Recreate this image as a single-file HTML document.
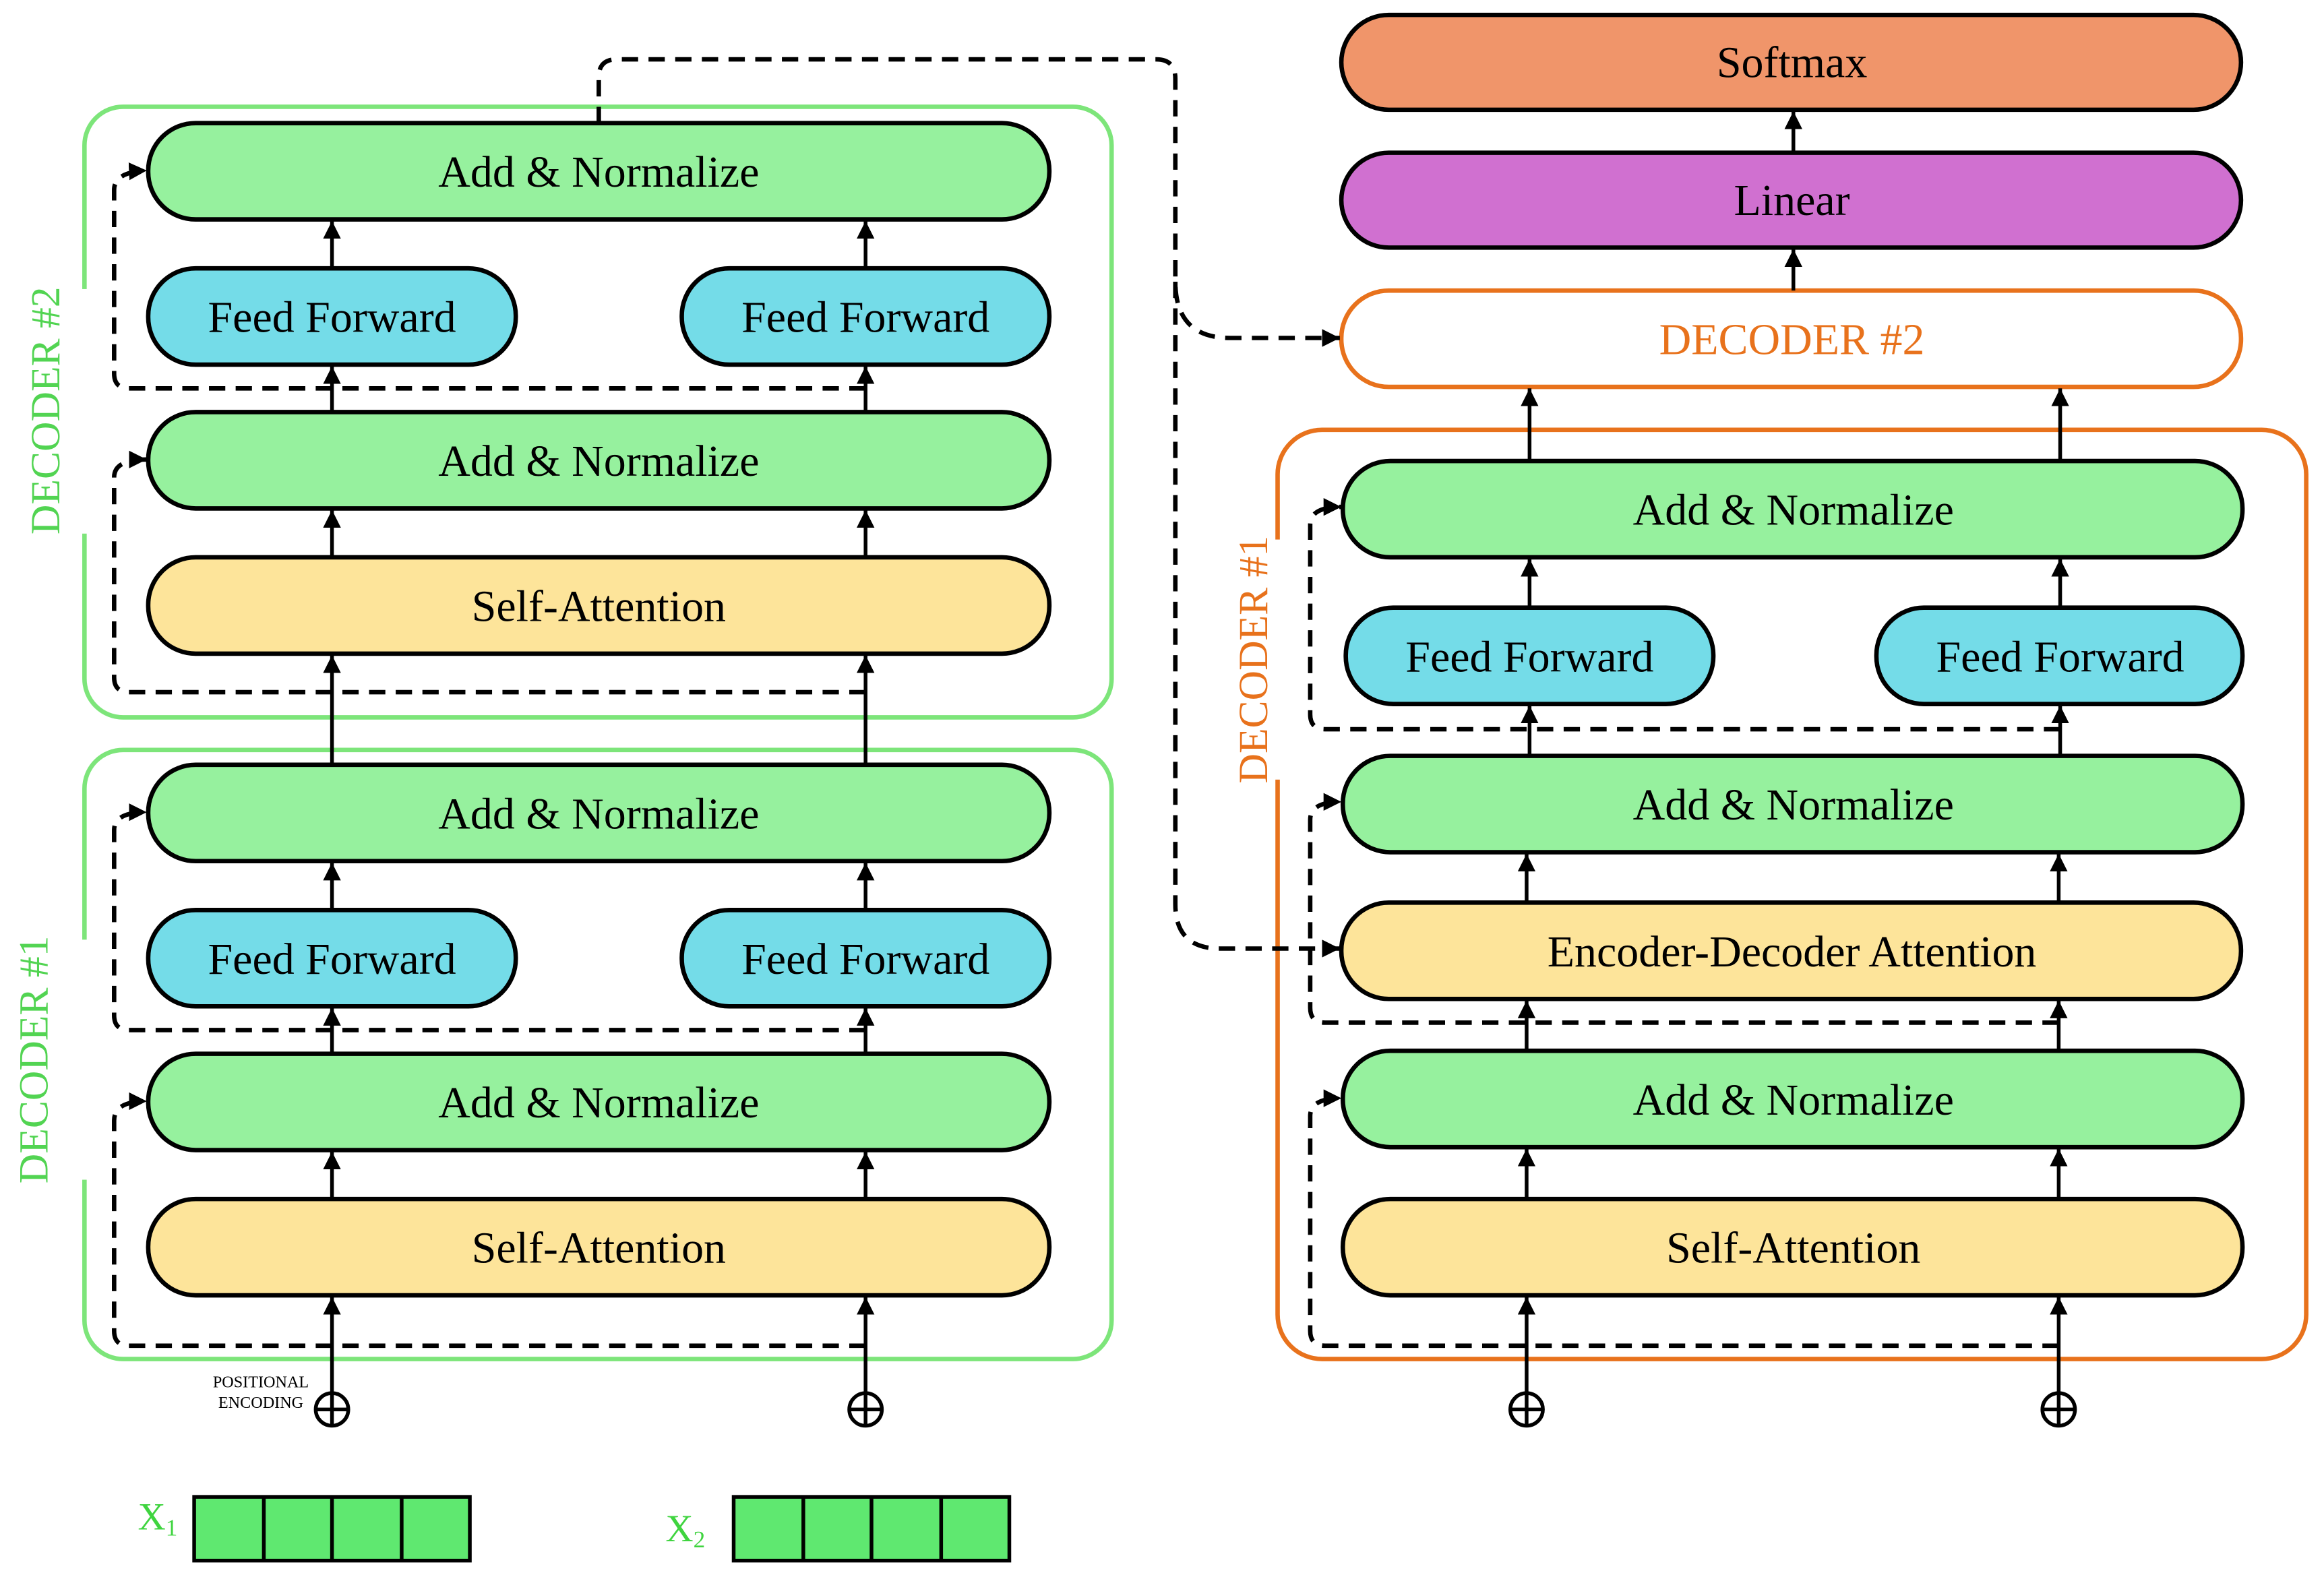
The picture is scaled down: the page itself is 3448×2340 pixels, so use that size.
<!DOCTYPE html>
<html><head><meta charset="utf-8"><style>html,body{margin:0;padding:0;background:#fff}svg{display:block}</style></head>
<body>
<svg width="3448" height="2340" viewBox="0 0 1568 1064" xmlns="http://www.w3.org/2000/svg" font-family="Liberation Serif, serif">
<defs>
<marker id="b" viewBox="0 0 10 10" refX="10" refY="5" markerWidth="12" markerHeight="12" orient="auto" markerUnits="userSpaceOnUse"><path d="M0,0 L10,5 L0,10 z" fill="#000"/></marker>
</defs>
<rect width="1568" height="1064" fill="#fff"/>
<rect x="57" y="72" width="693" height="412" rx="26" fill="none" stroke="#7de57a" stroke-width="3"/>
<rect x="57" y="506" width="693" height="411" rx="26" fill="none" stroke="#7de57a" stroke-width="3"/>
<rect x="862" y="290" width="694" height="627" rx="30" fill="none" stroke="#e8721c" stroke-width="3"/>
<rect x="40" y="195" width="30" height="165" fill="#fff"/>
<rect x="40" y="634" width="30" height="162" fill="#fff"/>
<rect x="845" y="364" width="30" height="162" fill="#fff"/>
<text transform="translate(40,277) rotate(-90)" text-anchor="middle" font-size="28" fill="#52d452">DECODER #2</text>
<text transform="translate(32,715) rotate(-90)" text-anchor="middle" font-size="28" fill="#52d452">DECODER #1</text>
<text transform="translate(855,445) rotate(-90)" text-anchor="middle" font-size="28" fill="#e8721c">DECODER #1</text>

<g stroke="#000" stroke-width="3">
<rect x="100" y="83" width="608" height="65" rx="32" fill="#96f19e"/>
<rect x="100" y="181" width="248" height="65" rx="32" fill="#74dce8"/>
<rect x="460" y="181" width="248" height="65" rx="32" fill="#74dce8"/>
<rect x="100" y="278" width="608" height="65" rx="32" fill="#96f19e"/>
<rect x="100" y="376" width="608" height="65" rx="32" fill="#fde49a"/>
<rect x="100" y="516" width="608" height="65" rx="32" fill="#96f19e"/>
<rect x="100" y="614" width="248" height="65" rx="32" fill="#74dce8"/>
<rect x="460" y="614" width="248" height="65" rx="32" fill="#74dce8"/>
<rect x="100" y="711" width="608" height="65" rx="32" fill="#96f19e"/>
<rect x="100" y="809" width="608" height="65" rx="32" fill="#fde49a"/>
<rect x="905" y="10" width="607" height="64" rx="32" fill="#f0956a"/>
<rect x="905" y="103" width="607" height="64" rx="32" fill="#d070d0"/>
<rect x="905" y="196" width="607" height="65" rx="32" fill="#fff" stroke="#e8721c"/>
<rect x="906" y="311" width="607" height="65" rx="32" fill="#96f19e"/>
<rect x="908" y="410" width="248" height="65" rx="32" fill="#74dce8"/>
<rect x="1266" y="410" width="247" height="65" rx="32" fill="#74dce8"/>
<rect x="906" y="510" width="607" height="65" rx="32" fill="#96f19e"/>
<rect x="905" y="609" width="607" height="65" rx="32" fill="#fde49a"/>
<rect x="906" y="709" width="607" height="65" rx="32" fill="#96f19e"/>
<rect x="906" y="809" width="607" height="65" rx="32" fill="#fde49a"/>
</g>
<g font-size="30" text-anchor="middle" fill="#000">
<text x="404" y="126">Add &amp; Normalize</text>
<text x="224" y="224">Feed Forward</text>
<text x="584" y="224">Feed Forward</text>
<text x="404" y="321">Add &amp; Normalize</text>
<text x="404" y="419">Self-Attention</text>
<text x="404" y="559">Add &amp; Normalize</text>
<text x="224" y="657">Feed Forward</text>
<text x="584" y="657">Feed Forward</text>
<text x="404" y="754">Add &amp; Normalize</text>
<text x="404" y="852">Self-Attention</text>
<text x="1209" y="52">Softmax</text>
<text x="1209" y="145">Linear</text>
<text x="1209" y="239" fill="#e8721c">DECODER #2</text>
<text x="1210" y="354">Add &amp; Normalize</text>
<text x="1032" y="453">Feed Forward</text>
<text x="1390" y="453">Feed Forward</text>
<text x="1210" y="553">Add &amp; Normalize</text>
<text x="1209" y="652">Encoder-Decoder Attention</text>
<text x="1210" y="752">Add &amp; Normalize</text>
<text x="1210" y="852">Self-Attention</text>
</g>

<g stroke="#000" stroke-width="2.5" fill="none" marker-end="url(#b)">
<path d="M224 181V149"/><path d="M584 181V149"/>
<path d="M224 278V247"/><path d="M584 278V247"/>
<path d="M224 376V344"/><path d="M584 376V344"/>
<path d="M224 516V442"/><path d="M584 516V442"/>
<path d="M224 614V582"/><path d="M584 614V582"/>
<path d="M224 711V680"/><path d="M584 711V680"/>
<path d="M224 809V777"/><path d="M584 809V777"/>
<path d="M224 939V875"/><path d="M584 939V875"/>
<path d="M1210 103V75"/><path d="M1210 196V168"/>
<path d="M1032 311V262"/><path d="M1390 311V262"/>
<path d="M1032 410V377"/><path d="M1390 410V377"/>
<path d="M1032 510V476"/><path d="M1390 510V476"/>
<path d="M1030 609V576"/><path d="M1389 609V576"/>
<path d="M1030 709V675"/><path d="M1389 709V675"/>
<path d="M1030 809V775"/><path d="M1389 809V775"/>
<path d="M1030 939V875"/><path d="M1389 939V875"/>
</g>
<g stroke="#000" stroke-width="2.5" fill="#fff">
<circle cx="224" cy="951" r="11"/><path d="M213 951h22M224 940v22"/>
<circle cx="584" cy="951" r="11"/><path d="M573 951h22M584 940v22"/>
<circle cx="1030" cy="951" r="11"/><path d="M1019 951h22M1030 940v22"/>
<circle cx="1389" cy="951" r="11"/><path d="M1378 951h22M1389 940v22"/>
</g>
<text x="176" y="936" font-size="11" text-anchor="middle">POSITIONAL</text>
<text x="176" y="950" font-size="11" text-anchor="middle">ENCODING</text>

<g stroke="#000" stroke-width="3" fill="none" stroke-dasharray="11,7" marker-end="url(#b)">
<path d="M584 262H87Q77 262 77 252V128Q77 116 99 115"/>
<path d="M584 467H87Q77 467 77 457V322Q77 310 99 310"/>
<path d="M584 695H87Q77 695 77 685V560Q77 548 99 548"/>
<path d="M584 908H87Q77 908 77 898V756Q77 743 99 743"/>
<path d="M1390 492H894Q884 492 884 482V354Q884 342 905 342"/>
<path d="M1389 690H894Q884 690 884 680V553Q884 541 905 541"/>
<path d="M1389 908H894Q884 908 884 898V753Q884 741 905 741"/>
<path d="M404 83V52Q404 40 416 40H780Q793 40 793 53V190Q793 228 830 228H904"/>
<path d="M793 190V610Q793 640 823 640H904"/>
</g>

<g stroke="#000" stroke-width="2.5" fill="#5fe870">
<rect x="131" y="1010" width="186" height="43"/>
<path d="M178 1010v43M224 1010v43M271 1010v43"/>
<rect x="495" y="1010" width="186" height="43"/>
<path d="M542 1010v43M588 1010v43M635 1010v43"/>
</g>
<text x="93" y="1032" font-size="26" fill="#3fd43f">X<tspan font-size="16" dy="4">1</tspan></text>
<text x="449" y="1040" font-size="26" fill="#3fd43f">X<tspan font-size="16" dy="4">2</tspan></text>
</svg>
</body></html>
